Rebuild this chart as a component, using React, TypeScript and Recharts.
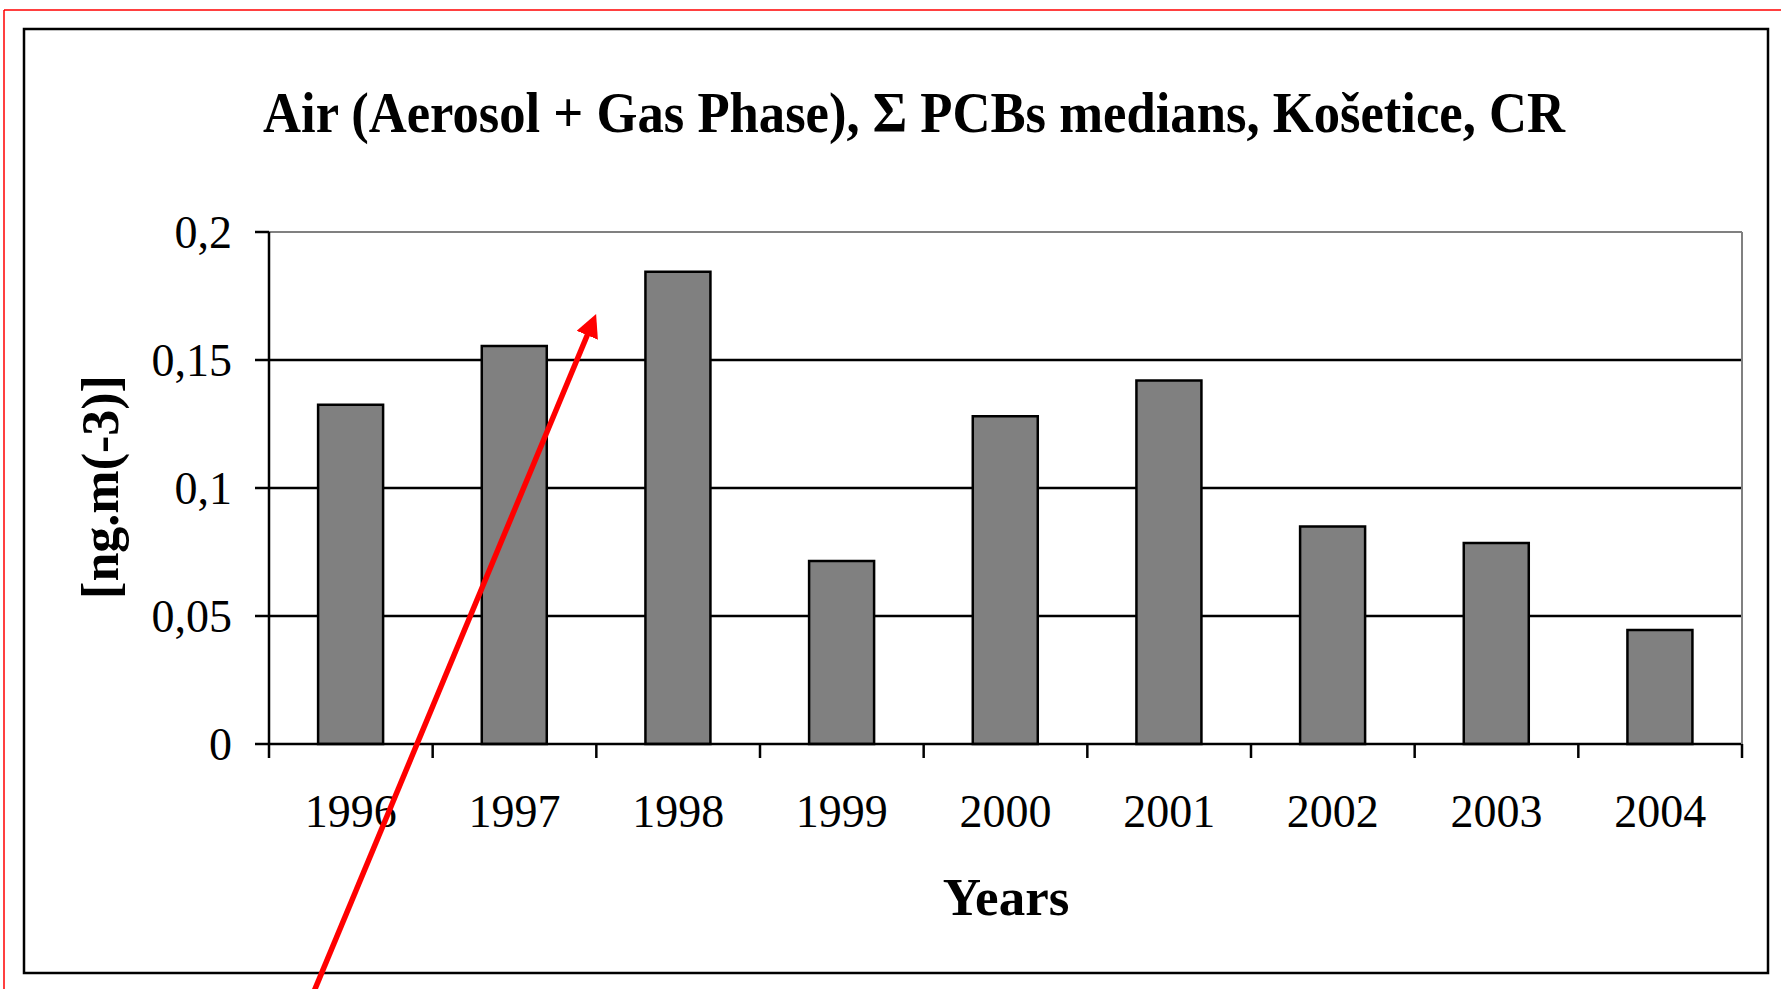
import { BarChart, Bar, XAxis, YAxis, CartesianGrid } from "recharts"

// Σ PCBs medians, Košetice
const years = ["1996", "1997", "1998", "1999", "2000", "2001", "2002", "2003", "2004"]
const medians = [0.1325, 0.1555, 0.1845, 0.0715, 0.128, 0.142, 0.085, 0.0785, 0.0445]
const yTicks = [0, 0.05, 0.1, 0.15, 0.2]
const gridValues = [0.05, 0.1, 0.15]
const Y_MAX = 0.2

const data = years.map((year, i) => ({ year, value: medians[i] }))

const W = 1781
const H = 989
const PLOT_LEFT = 269
const PLOT_RIGHT = 1742
const PLOT_TOP = 232
const PLOT_BOTTOM = 744
const BAND = (PLOT_RIGHT - PLOT_LEFT) / years.length
const FONT = "'Liberation Serif', 'Times New Roman', serif"

const YearTick = (props: any) => {
  const { x, payload, index } = props
  const left = x - BAND / 2
  return (
    <g>
      <line x1={left} x2={left} y1={PLOT_BOTTOM} y2={PLOT_BOTTOM + 14} stroke="#000" strokeWidth={2.5} />
      {index === years.length - 1 && (
        <line x1={left + BAND} x2={left + BAND} y1={PLOT_BOTTOM} y2={PLOT_BOTTOM + 14} stroke="#000" strokeWidth={2.5} />
      )}
      <text x={x} y={PLOT_BOTTOM + 83} textAnchor="middle" fontFamily={FONT} fontSize={46} fill="#000">
        {payload.value}
      </text>
    </g>
  )
}

// grid only at the inner ticks; the 0.2 line is the grey plot frame
const gridRows = ({ yAxis, offset }: any) =>
  gridValues.map((v) =>
    typeof yAxis?.scale === "function" ? yAxis.scale(v) : offset.top + offset.height * (1 - v / Y_MAX)
  )

export default function App() {
  return (
    <div style={{ position: "absolute", left: 0, top: 0, width: W, height: H, background: "#fff" }}>
      <BarChart
        width={W}
        height={H}
        data={data}
        barCategoryGap="30%"
        margin={{ top: PLOT_TOP - 1, right: W - PLOT_RIGHT - 1, bottom: H - PLOT_BOTTOM - 100, left: PLOT_LEFT - 100 }}
      >
        <CartesianGrid vertical={false} stroke="#000" strokeWidth={2.5} horizontalCoordinatesGenerator={gridRows} />
        <XAxis
          dataKey="year"
          height={100}
          tickLine={false}
          axisLine={{ stroke: "#000", strokeWidth: 2.5 }}
          tick={<YearTick />}
          interval={0}
        />
        <XAxis xAxisId="top" dataKey="year" orientation="top" height={1} tick={false} tickLine={false} axisLine={{ stroke: "#808080", strokeWidth: 2 }} />
        <YAxis
          width={100}
          domain={[0, Y_MAX]}
          ticks={yTicks}
          interval={0}
          tickSize={14}
          tickMargin={23}
          tickLine={{ stroke: "#000", strokeWidth: 2.5 }}
          axisLine={{ stroke: "#000", strokeWidth: 2.5 }}
          tick={{ fill: "#000", fontSize: 46, fontFamily: FONT }}
          tickFormatter={(v: number) => String(v).replace(".", ",")}
        />
        <YAxis yAxisId="right" orientation="right" width={1} domain={[0, Y_MAX]} tick={false} tickLine={false} axisLine={{ stroke: "#808080", strokeWidth: 2 }} />
        <Bar dataKey="value" fill="#808080" stroke="#000" strokeWidth={2.5} isAnimationActive={false} />
      </BarChart>
      <svg width={W} height={H} style={{ position: "absolute", left: 0, top: 0, pointerEvents: "none" }}>
        <defs>
          <marker id="arrowHead" viewBox="0 0 10 10" refX="2" refY="5" markerWidth="4.2" markerHeight="4.2" orient="auto">
            <path d="M0,0 L10,5 L0,10 z" fill="#ff0000" />
          </marker>
        </defs>
        <line x1={4} x2={4} y1={10} y2={H} stroke="#ff0000" strokeWidth={1.5} />
        <line x1={4} x2={W} y1={10} y2={10} stroke="#ff0000" strokeWidth={1.5} />
        <rect x={24} y={29} width={1744} height={944} fill="none" stroke="#000" strokeWidth={2.5} />
        <text x={914} y={132} textAnchor="middle" fontFamily={FONT} fontWeight="bold" fontSize={58} textLength={1302} lengthAdjust="spacingAndGlyphs" fill="#000">
          Air (Aerosol + Gas Phase), Σ PCBs medians, Košetice, CR
        </text>
        <text x={1006} y={915} textAnchor="middle" fontFamily={FONT} fontWeight="bold" fontSize={53} fill="#000">
          Years
        </text>
        <text
          x={0}
          y={0}
          transform="translate(118, 487) rotate(-90)"
          textAnchor="middle"
          fontFamily={FONT}
          fontWeight="bold"
          fontSize={52}
          fill="#000"
        >
          [ng.m(-3)]
        </text>
        <line x1={310} y1={1001} x2={589} y2={331} stroke="#ff0000" strokeWidth={5.5} markerEnd="url(#arrowHead)" />
      </svg>
    </div>
  )
}
